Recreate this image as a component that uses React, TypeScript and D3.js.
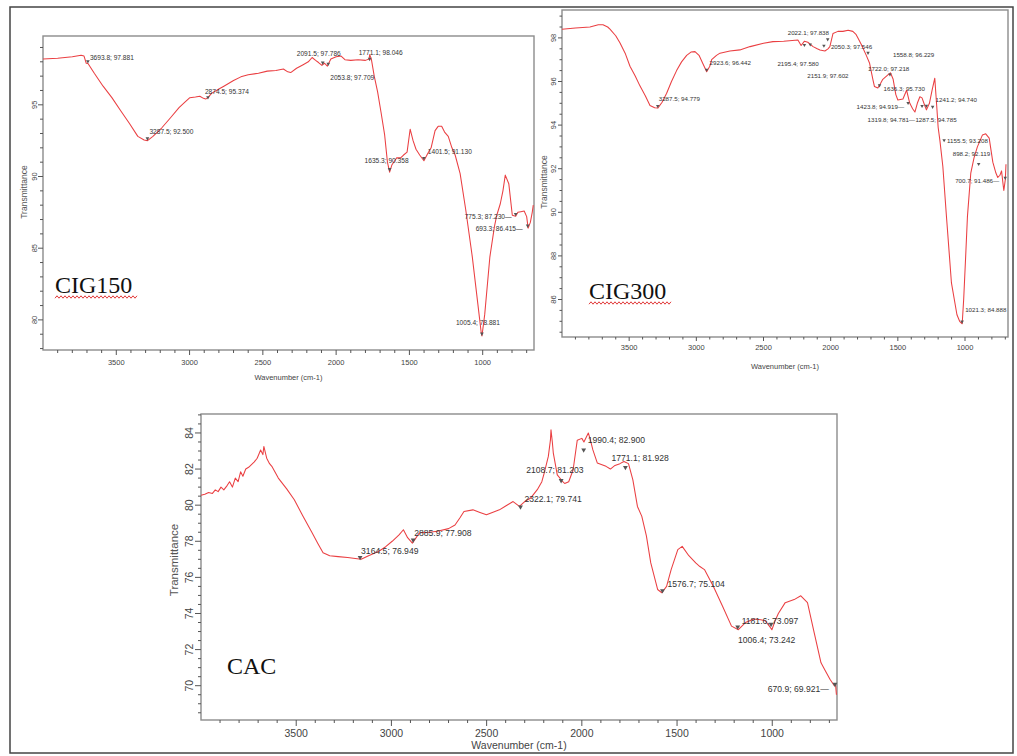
import React from "react";
import * as d3 from "d3";

// ---------------- DATA ----------------
// CIG150 spectrum (wavenumber cm-1, transmittance %)
const cig150Wn = [4000,3900,3800,3740,3720,3705,3693,3650,3590,3530,3471,3410,3353,3310,3287,3250,3189,3130,3072,3030,2998,2960,2930,2905,2890,2875,2850,2800,2766,2700,2650,2600,2530,2470,2411,2360,2330,2310,2270,2225,2190,2164,2140,2120,2097,2080,2060,2036,2000,1966,1940,1900,1850,1800,1775,1771,1760,1740,1717,1694,1669,1650,1635,1620,1600,1587,1560,1540,1516,1495,1475,1455,1430,1401,1375,1352,1325,1304,1280,1260,1235,1210,1188,1154,1116,1071,1033,1010,1005,986,951,920,904,880,862,846,822,798,775,760,740,717,700,690,675,662,655];
const cig150Tr = [98.2,98.25,98.35,98.45,98.4,97.9,97.88,97.2,96.3,95.5,94.6,93.7,92.8,92.55,92.5,92.8,93.4,94.1,94.8,95.2,95.5,95.55,95.6,95.45,95.4,95.5,95.8,96.1,96.3,96.7,96.95,97.1,97.2,97.35,97.4,97.5,97.3,97.25,97.55,97.8,98.0,98.3,98.1,97.95,97.75,97.9,97.7,98.2,98.35,98.4,98.15,98.1,98.15,98.1,98.2,98.5,98.2,97.0,95.9,94.5,92.9,91.0,90.3,90.8,91.1,91.3,91.3,91.5,91.7,93.3,92.5,91.9,91.5,91.1,91.6,92.0,93.2,93.5,93.5,93.1,92.8,92.0,91.5,90.2,87.7,84.4,81.1,79.1,78.88,80.4,84.4,86.5,87.3,88.1,89.0,90.1,89.5,87.3,87.23,87.5,87.55,87.6,87.2,86.4,86.8,87.5,88.0];
const cig150PeakWn = [3693.8,3287.5,2874.5,2091.5,2053.8,1771.1,1635.3,1401.5,775.3,693.3,1005.4];
const cig150PeakTr = [97.881,92.5,95.374,97.786,97.709,98.046,90.358,91.13,87.23,86.415,78.881];
const cig150PeakText = ["3693.8; 97.881","3287.5; 92.500","2874.5; 95.374","2091.5; 97.786","2053.8; 97.709","1771.1; 98.046","1635.3; 90.358","1401.5; 91.130","775.3; 87.230","693.3; 86.415","1005.4; 78.881"];

// CIG300 spectrum
const cig300Wn = [4000,3900,3792,3730,3695,3660,3643,3600,3568,3530,3494,3455,3420,3380,3345,3310,3287,3255,3221,3185,3147,3110,3072,3040,3010,2980,2950,2923,2900,2886,2850,2824,2750,2676,2600,2500,2430,2350,2244,2220,2195,2170,2131,2100,2080,2043,2020,2006,1983,1946,1909,1870,1835,1810,1797,1772,1735,1711,1686,1674,1649,1630,1612,1574,1555,1535,1515,1500,1462,1435,1423,1411,1390,1373,1355,1336,1320,1300,1287,1265,1245,1225,1212,1200,1187,1165,1138,1101,1060,1040,1021,1010,995,982,957,933,908,870,846,820,793,770,756,740,728,715,711,700,695];
const cig300Tr = [98.4,98.45,98.5,98.6,98.6,98.5,98.4,98.1,97.77,97.3,96.7,96.25,95.8,95.35,94.9,94.8,94.78,95.05,95.46,96.0,96.5,96.9,97.2,97.35,97.37,97.2,96.8,96.45,96.7,97.0,97.2,97.3,97.4,97.45,97.6,97.75,97.83,97.85,97.9,97.65,97.85,97.8,97.6,97.5,97.45,97.4,97.5,97.6,98.2,98.3,98.3,98.35,98.3,98.15,98.0,97.7,97.2,96.85,96.1,95.77,95.7,95.9,96.1,96.3,96.4,96.1,95.4,95.15,95.2,95.6,95.3,95.0,94.75,94.6,95.0,95.3,95.25,94.9,94.7,95.0,95.6,96.15,95.0,93.9,93.3,92.1,89.8,86.76,85.3,85.0,84.888,86.0,88.0,89.8,91.8,92.5,93.0,93.55,93.6,93.4,92.3,91.8,91.6,91.7,91.9,91.2,91.0,91.5,92.2];
const cig300PeakWn = [3287.5,2923.6,2022.1,2195.4,2151.9,2050.3,1558.8,1722.0,1636.3,1423.8,1319.8,1287.5,1241.2,1155.5,898.2,700.7,1021.3];
const cig300PeakTr = [94.779,96.442,97.838,97.58,97.602,97.546,96.229,97.218,95.73,94.919,94.781,94.785,94.74,93.208,92.119,91.486,84.888];
const cig300PeakText = ["3287.5; 94.779","2923.6; 96.442","2022.1; 97.838","2195.4; 97.580","2151.9; 97.602","2050.3; 97.546","1558.8; 96.229","1722.0; 97.218","1636.3; 95.730","1423.8; 94.919","1319.8; 94.781","1287.5; 94.785","1241.2; 94.740","1155.5; 93.208","898.2; 92.119","700.7; 91.486","1021.3; 84.888"];

// CAC spectrum
const cacWn = [4000,3980,3960,3940,3925,3910,3895,3880,3862,3850,3835,3820,3805,3792,3780,3765,3750,3735,3720,3705,3695,3687,3675,3670,3655,3640,3628,3594,3550,3510,3465,3418,3385,3359,3324,3280,3230,3190,3159,3120,3066,3030,2996,2960,2937,2915,2890,2870,2853,2800,2759,2700,2666,2640,2619,2572,2535,2501,2470,2433,2400,2361,2328,2300,2268,2234,2210,2197,2176,2165,2162,2155,2150,2129,2104,2090,2069,2046,2024,2000,1989,1966,1955,1942,1919,1873,1850,1826,1800,1779,1755,1732,1708,1685,1661,1638,1602,1580,1555,1531,1496,1473,1438,1402,1380,1356,1309,1261,1214,1178,1141,1096,1060,1037,1015,1002,985,968,932,885,850,815,779,744,720,697,674,668,663];
const cacTr = [80.55,80.6,80.7,80.65,80.85,80.75,81.0,80.85,81.1,81.3,81.0,81.5,81.3,81.85,81.6,82.0,82.1,82.25,82.4,82.6,82.85,83.06,82.8,83.25,82.6,82.3,82.15,81.5,80.9,80.3,79.4,78.5,77.85,77.36,77.2,77.15,77.1,77.05,77.0,77.2,77.45,77.7,78.0,78.35,78.64,78.2,77.9,78.2,78.47,78.5,78.56,78.7,78.9,79.3,79.65,79.74,79.6,79.47,79.6,79.74,79.95,80.2,79.93,80.2,80.4,80.86,81.3,81.8,82.7,83.6,84.17,83.5,82.9,81.68,81.35,81.2,81.3,81.95,83.6,83.7,83.5,84.0,83.6,83.06,82.34,82.15,82.0,82.2,82.3,82.42,82.3,81.4,79.93,79.38,78.3,76.8,75.33,75.15,75.5,76.43,77.54,77.72,77.2,76.8,76.6,76.43,75.5,74.4,73.3,73.1,73.5,73.7,73.65,73.6,73.3,73.1,73.6,74.0,74.6,74.77,74.98,74.6,72.9,71.27,70.8,70.36,70.0,70.1,69.5];
const cacPeakWn = [3164.5,2885.9,2322.1,2108.7,1990.4,1771.1,1576.7,1181.6,1006.4,670.9];
const cacPeakTr = [76.949,77.908,79.741,81.203,82.9,81.928,75.104,73.097,73.242,69.921];
const cacPeakText = ["3164.5; 76.949","2885.9; 77.908","2322.1; 79.741","2108.7; 81.203","1990.4; 82.900","1771.1; 81.928","1576.7; 75.104","1181.6; 73.097","1006.4; 73.242","670.9; 69.921"];

const xTickValues = [3500, 3000, 2500, 2000, 1500, 1000];
const cig150YTicks = [80, 85, 90, 95];
const cig300YTicks = [86, 88, 90, 92, 94, 96, 98];
const cacYTicks = [70, 72, 74, 76, 78, 80, 82, 84];

// ---------------- LAYOUT (positions / styles) ----------------
type LabelLayout = [number, number, "start" | "end"];
const cig150LabelLayout: LabelLayout[] = [[2,-4,"start"],[2,-7,"start"],[-3,-5,"start"],[-26,-9,"start"],[2,14,"start"],[-11,-6,"start"],[-25,-8,"start"],[4,-6,"start"],[-4,3,"end"],[-5,3,"end"],[-26,-11,"start"]];
const cig300LabelLayout: LabelLayout[] = [[1,-7,"start"],[3,-7,"start"],[-40,-6,"start"],[-27,19,"start"],[-3,31,"start"],[7,1,"start"],[3,-20,"start"],[0,16,"start"],[4,4,"start"],[-4,4,"end"],[-7,14,"end"],[-11,14,"start"],[3,-7,"start"],[3,1,"start"],[-26,-10,"start"],[-6,3,"end"],[3,-12,"start"]];
const cacLabelLayout: LabelLayout[] = [[1,-6,"start"],[1,-7,"start"],[4,-8,"start"],[-35,-10,"start"],[4,-10,"start"],[-14,-9,"start"],[5,-7,"start"],[4,-6,"start"],[-33,16,"start"],[-6,5,"end"]];

interface PanelSpec {
  name: string;
  wn: number[];
  tr: number[];
  peakWn: number[];
  peakTr: number[];
  peakText: string[];
  labelLayout: LabelLayout[];
  box: { l: number; t: number; r: number; b: number };
  xDomain: [number, number];
  yDomain: [number, number];
  yTicks: number[];
  yMinorStep: number;
  tickFs: number;
  titleFs: number;
  yTitleFs: number;
  annFs: number;
  tickLabelDy: number;
  titleDy: number;
  yTickLabelDx: number;
  yTitleDx: number;
  yTitleCy: number;
  majorLen: number;
  minorLen: number;
  tagX: number;
  tagY: number;
  underline: boolean;
}

const panels: PanelSpec[] = [
  {
    name: "CIG150", wn: cig150Wn, tr: cig150Tr, peakWn: cig150PeakWn, peakTr: cig150PeakTr, peakText: cig150PeakText,
    labelLayout: cig150LabelLayout,
    box: { l: 43, t: 36, r: 534, b: 350 }, xDomain: [4000, 650], yDomain: [77.9, 99.8],
    yTicks: cig150YTicks, yMinorStep: 1,
    tickFs: 7.5, titleFs: 7.5, yTitleFs: 8.5, annFs: 6.6,
    tickLabelDy: 15, titleDy: 30, yTickLabelDx: -6, yTitleDx: -16, yTitleCy: 192,
    majorLen: 5, minorLen: 3, tagX: 55, tagY: 293, underline: true,
  },
  {
    name: "CIG300", wn: cig300Wn, tr: cig300Tr, peakWn: cig300PeakWn, peakTr: cig300PeakTr, peakText: cig300PeakText,
    labelLayout: cig300LabelLayout,
    box: { l: 562, t: 10, r: 1008, b: 337 }, xDomain: [4000, 680], yDomain: [84.28, 99.28],
    yTicks: cig300YTicks, yMinorStep: 0.5,
    tickFs: 7.5, titleFs: 7.5, yTitleFs: 8.5, annFs: 6.2,
    tickLabelDy: 13, titleDy: 32, yTickLabelDx: -6, yTitleDx: -15, yTitleCy: 182,
    majorLen: 4, minorLen: 2.5, tagX: 589, tagY: 299, underline: true,
  },
  {
    name: "CAC", wn: cacWn, tr: cacTr, peakWn: cacPeakWn, peakTr: cacPeakTr, peakText: cacPeakText,
    labelLayout: cacLabelLayout,
    box: { l: 201, t: 414, r: 837, b: 720 }, xDomain: [4000, 660], yDomain: [68.1, 85.05],
    yTicks: cacYTicks, yMinorStep: 0.5,
    tickFs: 10.5, titleFs: 10.5, yTitleFs: 11.5, annFs: 8.6,
    tickLabelDy: 17, titleDy: 29, yTickLabelDx: -8, yTitleDx: -23, yTitleCy: 560,
    majorLen: 6, minorLen: 3, tagX: 227, tagY: 674, underline: false,
  },
];

const LINE_COLOR = "#ea3f42";
const FONT = "'Liberation Sans', Arial, sans-serif";

function Panel({ p }: { p: PanelSpec }) {
  const { l, t, r, b } = p.box;
  const x = d3.scaleLinear().domain(p.xDomain).range([l, r]);
  const y = d3.scaleLinear().domain(p.yDomain).range([b, t]);
  const pts = p.wn.map((w, i) => [w, p.tr[i]] as [number, number]);
  const line = d3.line<[number, number]>().x((d) => x(d[0])).y((d) => y(d[1]));

  const xMinor = d3.range(3900, p.xDomain[1] - 1, -100);
  const yMinor = d3.range(Math.ceil(p.yDomain[0] / p.yMinorStep) * p.yMinorStep, p.yDomain[1], p.yMinorStep);

  // wavy underline
  let wave = "";
  if (p.underline) {
    const w0 = p.tagX, w1 = p.tagX + 82, yy = p.tagY + 4;
    const parts: string[] = [];
    for (let xx = w0, k = 0; xx <= w1; xx += 2, k++) parts.push(`${k === 0 ? "M" : "L"}${xx},${yy + (k % 2 ? -1.2 : 1.2)}`);
    wave = parts.join("");
  }

  return (
    <g>
      <rect x={l} y={t} width={r - l} height={b - t} fill="none" stroke="#8c8c8c" strokeWidth={1.4} />
      {xMinor.map((v) => (
        <line key={"xm" + v} x1={x(v)} x2={x(v)} y1={b} y2={b + (v % 500 === 0 ? p.majorLen : p.minorLen)} stroke="#555" strokeWidth={1} />
      ))}
      {xTickValues.map((v) => (
        <text key={"xl" + v} x={x(v)} y={b + p.tickLabelDy} fontSize={p.tickFs} fontFamily={FONT} fill="#444" textAnchor="middle">{v}</text>
      ))}
      <text x={(l + r) / 2} y={b + p.titleDy} fontSize={p.titleFs} fontFamily={FONT} fill="#444" textAnchor="middle">Wavenumber (cm-1)</text>
      {yMinor.map((v) => (
        <line key={"ym" + v} x1={l} x2={l - (p.yTicks.some((tv) => Math.abs(tv - v) < 1e-6) ? p.majorLen : p.minorLen)} y1={y(v)} y2={y(v)} stroke="#555" strokeWidth={1} />
      ))}
      {p.yTicks.map((v) => (
        <text key={"yl" + v} transform={`translate(${l + p.yTickLabelDx},${y(v)}) rotate(-90)`} fontSize={p.tickFs} fontFamily={FONT} fill="#444" textAnchor="middle">{v}</text>
      ))}
      <text transform={`translate(${l + p.yTitleDx},${p.yTitleCy}) rotate(-90)`} fontSize={p.yTitleFs} fontFamily={FONT} fill="#555" textAnchor="middle">Transmittance</text>
      <path d={line(pts) || ""} fill="none" stroke={LINE_COLOR} strokeWidth={1.05} strokeLinejoin="round" />
      {p.peakWn.map((w, i) => {
        const mx = x(w), my = y(p.peakTr[i]);
        const [dx, dy, anchor] = p.labelLayout[i];
        const s = p.annFs * 0.28;
        return (
          <g key={"pk" + i}>
            <path d={`M${mx},${my} L${mx - s},${my - s * 1.8} L${mx + s},${my - s * 1.8} Z`} fill="#555" />
            <text x={mx + dx} y={my + dy} fontSize={p.annFs} fontFamily={FONT} fill="#333" textAnchor={anchor}>
              {anchor === "end" ? p.peakText[i] + "—" : p.peakText[i]}
            </text>
          </g>
        );
      })}
      <text x={p.tagX} y={p.tagY} fontSize={24} fontFamily="'Liberation Serif', 'Times New Roman', serif" fill="#111">{p.name}</text>
      {p.underline && <path d={wave} fill="none" stroke="#d22" strokeWidth={0.9} />}
    </g>
  );
}

export default function App() {
  return (
    <svg width={1017} height={756} viewBox="0 0 1017 756" style={{ position: "absolute", left: 0, top: 0, display: "block", background: "#fff" }}>
      <rect x={0} y={0} width={1017} height={756} fill="#fff" />
      <rect x={10} y={7} width={1003} height={746} fill="none" stroke="#444" strokeWidth={1.5} />
      {panels.map((p) => (
        <Panel key={p.name} p={p} />
      ))}
    </svg>
  );
}
